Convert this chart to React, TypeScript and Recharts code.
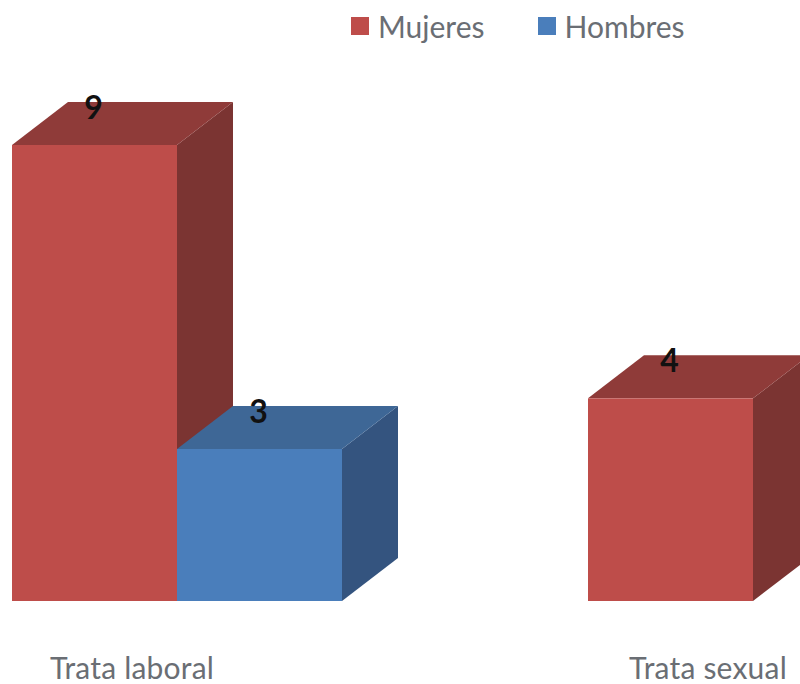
import React from "react"
import { BarChart, Bar, XAxis, YAxis, Legend, LabelList } from "recharts"

const categories = ["Trata laboral", "Trata sexual"]
const mujeres = [9, 4]
const hombres = [3, null]

const tableData = categories.map((name, i) => ({
    name,
    Mujeres: mujeres[i],
    Hombres: hombres[i],
}))

// front, top and side faces of each box
const RED = { front: "#BE4D4A", top: "#8F3B39", side: "#7B3432" }
const BLUE = { front: "#4A7EBB", top: "#3E6796", side: "#34547F" }

const DEPTH_X = 56
const DEPTH_Y = 43

const Box = ({ x, y, width, height, colors }: any) => {
    if (!height || height <= 0) return null
    const right = x + width
    const bottom = y + height
    return (
        <g>
            <polygon
                points={`${right},${y} ${right + DEPTH_X},${y - DEPTH_Y} ${right + DEPTH_X},${bottom - DEPTH_Y} ${right},${bottom}`}
                fill={colors.side}
            />
            <polygon
                points={`${x},${y} ${x + DEPTH_X},${y - DEPTH_Y} ${right + DEPTH_X},${y - DEPTH_Y} ${right},${y}`}
                fill={colors.top}
            />
            <rect x={x} y={y} width={width} height={height} fill={colors.front} />
        </g>
    )
}

const ValueLabel = ({ x, y, width, value }: any) => {
    if (value === null || value === undefined) return null
    return (
        <text
            x={x + width / 2 - 1}
            y={y - 26}
            textAnchor="middle"
            fontFamily="Lato"
            fontWeight={700}
            fontSize={32}
            fill="#111"
        >
            {value}
        </text>
    )
}

// the axis text sits left of the band centre because of the box depth
const CategoryTick = ({ x, y, payload }: any) => (
    <text
        x={x - 45}
        y={y + 70}
        textAnchor="middle"
        fontFamily="Lato"
        fontSize={30}
        letterSpacing={0.2}
        fill="#6A6E74"
    >
        {payload.value}
    </text>
)

const LegendRow = ({ payload }: any) => (
    <div style={{ display: "flex", fontFamily: "Lato", fontSize: 30, color: "#6A6E74", lineHeight: "34px" }}>
        {(payload || []).map((entry: any) => (
            <div key={entry.value} style={{ display: "flex", alignItems: "center", marginRight: 53 }}>
                <span style={{ width: 18, height: 18, background: entry.color, marginRight: 9 }} />
                <span>{entry.value}</span>
            </div>
        ))}
    </div>
)

const App = () => {
    return (
        <div style={{ position: "absolute", left: 0, top: 0, width: 800, height: 684, overflow: "hidden", background: "#fff" }}>
            <div style={{ position: "absolute", left: -200, top: 0 }}>
                <BarChart
                    width={1400}
                    height={684}
                    data={tableData}
                    margin={{ top: 111, right: 159, bottom: 0, left: 89 }}
                    barCategoryGap={123}
                    barGap={0}
                >
                    <XAxis dataKey="name" height={83} axisLine={false} tickLine={false} tick={<CategoryTick />} interval={0} />
                    <YAxis hide domain={[0, 9]} />
                    <Legend
                        verticalAlign="top"
                        height={0}
                        itemSorter={null}
                        content={<LegendRow />}
                        wrapperStyle={{ left: 551, top: 9, width: "auto" }}
                    />
                    <Bar dataKey="Mujeres" fill={RED.front} isAnimationActive={false} shape={(props: any) => <Box {...props} colors={RED} />}>
                        <LabelList dataKey="Mujeres" content={<ValueLabel />} />
                    </Bar>
                    <Bar dataKey="Hombres" fill={BLUE.front} isAnimationActive={false} shape={(props: any) => <Box {...props} colors={BLUE} />}>
                        <LabelList dataKey="Hombres" content={<ValueLabel />} />
                    </Bar>
                </BarChart>
            </div>
        </div>
    )
}

export default App
